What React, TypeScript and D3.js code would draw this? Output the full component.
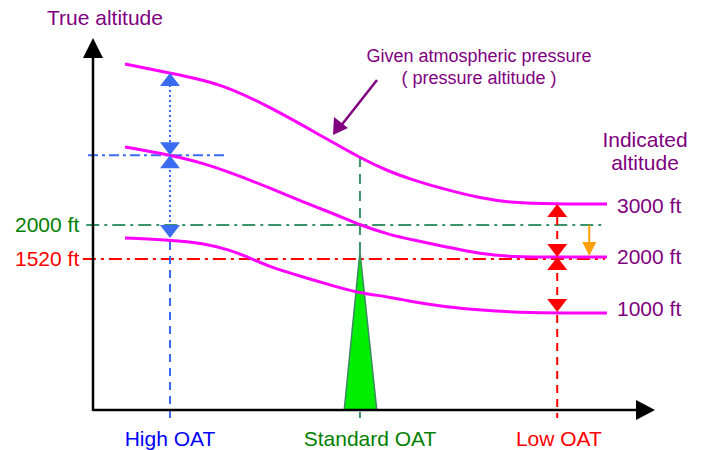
import React, { useEffect, useRef } from "react";
import * as d3 from "d3";

type Pt = [number, number];

// chart units: x = OAT axis (0..100), y = true altitude (0..100)
export const upperIsobar: Pt[] = [
  [5.69, 93.01], [13.7, 90.59], [22.6, 87.9], [31.49, 81.45], [40.39, 73.92],
  [47.51, 67.74], [52.85, 63.98], [56.94, 61.83], [62.99, 59.14], [68.86, 56.99],
  [74.73, 55.65], [81.85, 55.38], [91.46, 55.38],
];
export const middleIsobar: Pt[] = [
  [5.69, 70.7], [13.7, 68.55], [19.57, 66.4], [25.62, 63.17], [31.49, 59.68],
  [37.37, 55.91], [43.42, 52.42], [47.51, 49.73], [52.85, 47.04], [56.94, 45.7],
  [62.99, 43.82], [68.86, 41.94], [74.73, 41.13], [83.1, 41.13], [91.46, 41.13],
];
export const lowerIsobar: Pt[] = [
  [5.69, 46.24], [13.7, 45.7], [19.57, 44.89], [24.38, 43.01], [27.94, 40.86],
  [31.49, 38.44], [37.37, 35.75], [43.42, 33.06], [47.51, 31.45], [52.85, 30.38],
  [56.94, 29.03], [62.99, 27.69], [68.86, 26.88], [76.51, 26.08], [91.46, 26.08],
];

// OAT columns
export const oatNames = ["High OAT", "Standard OAT", "Low OAT"];
export const oatX = [13.7, 47.5, 82.6];

// reference levels
export const blueLevel = 68.5;
export const greenLevel = 49.7; // 2000 ft true
export const redLevel = 40.6; // 1520 ft true
export const indicatedLevels = [55.38, 41.13, 26.08];
export const indicatedLabels = ["3000 ft", "2000 ft", "1000 ft"];
export const trueLabels = ["2000 ft", "1520 ft"];

// standard-atmosphere wedge
export const wedge: Pt[] = [[44.7, 0], [47.5, 42.5], [50.5, 0]];

const W = 703;
const H = 450;

const App = () => {
  const ref = useRef<SVGSVGElement>(null);

  useEffect(() => {
    const svg = d3.select(ref.current);
    svg.selectAll("*").remove();

    const x = d3.scaleLinear().domain([0, 100]).range([93, 655]);
    const y = d3.scaleLinear().domain([0, 100]).range([410, 38]);

    const font = "'Liberation Sans', Arial, sans-serif";
    const purple = "#800080";
    const blue = "#3a6cf2";
    const green = "#3a9468";
    const red = "#ff0000";

    const hLine = (v: number, u0: number, u1: number, color: string, dash: string) =>
      svg.append("line")
        .attr("x1", x(u0)).attr("x2", x(u1))
        .attr("y1", y(v)).attr("y2", y(v))
        .attr("stroke", color).attr("stroke-width", 2)
        .attr("stroke-dasharray", dash);

    const vLine = (u: number, py0: number, py1: number, color: string, dash: string) =>
      svg.append("line")
        .attr("x1", x(u)).attr("x2", x(u))
        .attr("y1", py0).attr("y2", py1)
        .attr("stroke", color).attr("stroke-width", 2)
        .attr("stroke-dasharray", dash);

    // tip at (px, py), dir -1 = points up, 1 = points down
    const tri = (px: number, py: number, dir: number, color: string, w = 20, h = 13) =>
      svg.append("path")
        .attr("d", `M${px},${py}L${px - w / 2},${py - dir * h}L${px + w / 2},${py - dir * h}Z`)
        .attr("fill", color);

    // reference lines
    hLine(blueLevel, -0.9, 23.8, blue, "10 4 3 4");
    hLine(greenLevel, -1.2, 91.1, green, "13 5 3 5");
    hLine(redLevel, -1.8, 91.1, red, "13 5 3 5");

    const hx = x(oatX[0]);
    const lx = x(oatX[2]);

    vLine(oatX[0], y(upperIsobar[1][1]) + 12, y(lowerIsobar[1][1]) - 4, blue, "2 3");
    vLine(oatX[0], y(lowerIsobar[1][1]) + 2, 418, blue, "8 6");
    vLine(oatX[1], y(upperIsobar[5][1]) - 1, 418, green, "10 7");
    vLine(oatX[2], y(indicatedLevels[0]) + 13, 418, red, "8 6");

    // wedge
    const line = d3.line<Pt>().x((d) => x(d[0])).y((d) => y(d[1]));
    svg.append("path")
      .attr("d", line(wedge) + "Z")
      .attr("fill", "#00ee00")
      .attr("stroke", "#3d8a62")
      .attr("stroke-width", 1.5);

    // isobars
    const curve = d3.line<Pt>().x((d) => x(d[0])).y((d) => y(d[1])).curve(d3.curveBasis);
    [upperIsobar, middleIsobar, lowerIsobar].forEach((pts) => {
      svg.append("path")
        .attr("d", curve(pts))
        .attr("fill", "none")
        .attr("stroke", "#ff00ff")
        .attr("stroke-width", 3);
    });

    // axes
    svg.append("line")
      .attr("x1", x(0)).attr("x2", x(0)).attr("y1", y(0) + 1).attr("y2", y(95))
      .attr("stroke", "#000").attr("stroke-width", 2.5);
    svg.append("line")
      .attr("x1", x(0)).attr("x2", x(97)).attr("y1", y(0)).attr("y2", y(0))
      .attr("stroke", "#000").attr("stroke-width", 2.5);
    svg.append("path")
      .attr("d", `M${x(0)},${y(100)}L${x(0) - 10},${y(100) + 20}L${x(0) + 10},${y(100) + 20}Z`)
      .attr("fill", "#000");
    svg.append("path")
      .attr("d", `M${x(100)},${y(0)}L${x(100) - 19},${y(0) - 10}L${x(100) - 19},${y(0) + 10}Z`)
      .attr("fill", "#000");

    // blue arrows (high OAT)
    tri(hx, y(upperIsobar[1][1]), -1, blue);
    tri(hx, y(blueLevel), 1, blue);
    tri(hx, y(blueLevel), -1, blue);
    tri(hx, y(lowerIsobar[1][1]) - 2, 1, blue);

    // red arrows (low OAT)
    tri(lx, y(indicatedLevels[0]), -1, red);
    tri(lx, y(indicatedLevels[1]), 1, red);
    tri(lx, y(indicatedLevels[1]), -1, red);
    tri(lx, y(indicatedLevels[2]) - 1, 1, red);

    // orange correction arrow
    const ox = x(88.3);
    svg.append("line")
      .attr("x1", ox).attr("x2", ox).attr("y1", y(greenLevel)).attr("y2", y(indicatedLevels[1]) - 12)
      .attr("stroke", "#ffa000").attr("stroke-width", 2);
    tri(ox, y(indicatedLevels[1]) - 1, 1, "#ffa000", 14, 14);

    // pointer to isobar
    svg.append("line")
      .attr("x1", 377).attr("x2", 340).attr("y1", 80).attr("y2", 127)
      .attr("stroke", purple).attr("stroke-width", 2.5);
    svg.append("path")
      .attr("d", "M333,135L334,117L348,128Z")
      .attr("fill", purple);

    // texts
    const text = (t: string, px: number, py: number, color: string, size: number, anchor = "start") =>
      svg.append("text")
        .attr("x", px).attr("y", py)
        .attr("fill", color)
        .attr("font-family", font)
        .attr("font-size", size)
        .attr("text-anchor", anchor)
        .text(t);

    text("True altitude", 47, 25, purple, 21);
    text("Given atmospheric pressure", 479, 62, purple, 18, "middle");
    text("( pressure altitude )", 479, 84, purple, 18, "middle");
    text("Indicated", 645, 147, purple, 21, "middle");
    text("altitude", 645, 170, purple, 21, "middle");

    const rightOffsets = [9, 7, 3];
    indicatedLabels.forEach((l, i) => {
      text(l, 617, y(indicatedLevels[i]) + rightOffsets[i], purple, 21);
    });

    text(trueLabels[0], 15, y(greenLevel) + 7, "#008000", 21);
    text(trueLabels[1], 15, y(redLevel) + 7, red, 21);

    const oatColors = ["#0000ff", "#008000", red];
    const oatCenters = [oatX[0], 49.3, 82.9];
    oatNames.forEach((n, i) => {
      text(n, x(oatCenters[i]), 446, oatColors[i], 21, "middle");
    });
  }, []);

  return (
    <svg
      ref={ref}
      width={W}
      height={H}
      style={{ position: "absolute", left: 0, top: 0, background: "#fff" }}
    />
  );
};

export default App;
